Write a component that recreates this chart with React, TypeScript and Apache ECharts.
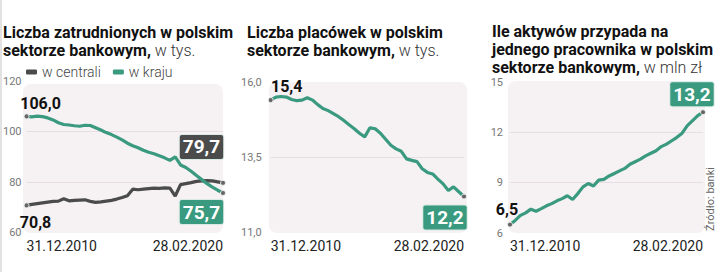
import React, { useEffect, useRef } from 'react';
import * as echarts from 'echarts';

const categories = [
  '2010-12', '2011-03', '2011-06', '2011-09', '2011-12', '2012-03', '2012-06', '2012-09', '2012-12',
  '2013-03', '2013-06', '2013-09', '2013-12', '2014-03', '2014-06', '2014-09', '2014-12',
  '2015-03', '2015-06', '2015-09', '2015-12', '2016-03', '2016-06', '2016-09', '2016-12',
  '2017-03', '2017-06', '2017-09', '2017-12', '2018-03', '2018-06', '2018-09', '2018-12',
  '2019-03', '2019-06', '2019-09', '2019-12', '2020-02',
];
const xTickLabels = ['31.12.2010', '28.02.2020'];

const wCentrali = [
  70.8, 71.2, 71.5, 71.8, 72.1, 72.4, 72.5, 73.4, 72.6, 72.8, 72.9, 73.0, 72.4, 72.0, 72.2, 72.5, 72.8,
  73.3, 73.9, 74.6, 77.2, 77.0, 77.2, 77.4, 77.6, 77.5, 77.7, 77.6, 74.5, 79.0, 79.4, 79.8, 80.3, 80.5,
  80.6, 80.5, 80.1, 79.7,
];
const wKraju = [
  106.0, 105.8, 106.1, 105.9, 105.4, 104.6, 103.5, 102.8, 102.6, 102.3, 102.1, 102.5, 102.4, 101.5,
  100.6, 99.6, 98.8, 97.8, 96.7, 95.4, 94.4, 93.6, 92.6, 91.8, 91.2, 90.4, 89.6, 88.6, 90.0, 86.8, 85.8,
  84.3, 82.6, 81.0, 79.4, 78.0, 76.8, 75.7,
];
const placowki = [
  15.4, 15.5, 15.52, 15.5, 15.42, 15.38, 15.4, 15.48, 15.4, 15.25, 15.12, 15.05, 14.95, 14.85, 14.72,
  14.58, 14.45, 14.3, 14.18, 14.48, 14.45, 14.3, 14.1, 13.9, 13.78, 13.7, 13.45, 13.4, 13.36, 13.12, 13.0,
  12.95, 12.78, 12.62, 12.4, 12.52, 12.36, 12.2,
];
const aktywa = [
  6.5, 6.75, 7.05, 7.2, 7.42, 7.3, 7.45, 7.62, 7.75, 7.92, 8.05, 8.22, 8.0, 8.35, 8.75, 8.95, 8.8, 9.15,
  9.2, 9.4, 9.55, 9.7, 9.85, 10.1, 10.25, 10.4, 10.6, 10.75, 10.9, 11.15, 11.3, 11.5, 11.7, 11.95, 12.4,
  12.7, 13.0, 13.2,
];

const TEAL = '#3a9a7f';
const GREY = '#4b4b4b';
const BG = '#f6f1f3';
const FONT = 'Roboto';

const fmt1 = (v: number) => v.toFixed(1).replace('.', ',');

const plainLabel = (offset: number[]) => ({
  show: true,
  position: 'inside',
  offset,
  formatter: (p: any) => fmt1(p.value),
  color: '#111',
  fontSize: 16,
  fontWeight: 'bold',
  fontFamily: FONT,
});
const boxLabel = (offset: number[], bg: string) => ({
  show: true,
  position: 'inside',
  offset,
  formatter: (p: any) => fmt1(p.value),
  color: '#fff',
  fontSize: 19,
  lineHeight: 20,
  fontWeight: 'bold',
  fontFamily: FONT,
  backgroundColor: bg,
  borderColor: '#d9e9e4',
  borderWidth: 1,
  borderRadius: 2,
  padding: [2, 3, 2, 3],
});

const withEnds = (values: number[], startLabel: any, endLabel: any) =>
  values.map((v, i) => {
    if (i === 0 || i === values.length - 1) {
      return {
        value: v,
        symbol: 'circle',
        symbolSize: 5,
        itemStyle: { color: '#666', borderColor: '#eee', borderWidth: 1 },
        label: i === 0 ? startLabel : endLabel,
      };
    }
    return v;
  });

const last = categories.length - 1;

const xAxisBase = (gridIndex: number) => ({
  type: 'category',
  gridIndex,
  data: categories,
  boundaryGap: false,
  axisLine: { show: false },
  axisTick: { show: false },
  splitLine: { show: false },
  axisLabel: {
    interval: (i: number) => i === 0 || i === last,
    formatter: (_v: string, i: number) => (i === 0 ? xTickLabels[0] : xTickLabels[1]),
    alignMinLabel: 'left',
    alignMaxLabel: 'right',
    fontSize: 14,
    color: '#222',
    fontFamily: FONT,
    margin: 6,
  },
});

const yAxisBase = (gridIndex: number, min: number, max: number, interval: number, margin: number, f?: (v: number) => string) => ({
  type: 'value',
  gridIndex,
  min,
  max,
  interval,
  axisLine: { show: false },
  axisTick: { show: false },
  splitLine: { show: true, showMinLine: false, showMaxLine: false, lineStyle: { color: '#e7dde2', width: 1 } },
  axisLabel: {
    color: '#777',
    fontSize: 11,
    fontFamily: FONT,
    margin,
    formatter: f || ((v: number) => String(v)),
  },
});

const lineSeries = (name: string, idx: number, data: any[], color: string) => ({
  name,
  type: 'line',
  xAxisIndex: idx,
  yAxisIndex: idx,
  data,
  symbol: 'none',
  showSymbol: true,
  showAllSymbol: true,
  lineStyle: { color, width: 3.2 },
  itemStyle: { color },
  color,
  z: 3,
});

const mkRich = (size: number, lh: number) => ({
  b: { fontFamily: FONT, fontWeight: 'bold', fontSize: size, color: '#111', lineHeight: lh },
  l: { fontFamily: FONT, fontWeight: 300, fontSize: size, color: '#333', lineHeight: lh },
});

export default function App() {
  const ref = useRef<HTMLDivElement>(null);
  useEffect(() => {
    document.body.style.margin = '0';
    if (!ref.current) return;
    const chart = echarts.init(ref.current, undefined, { renderer: 'svg' });
    chart.setOption({
      animation: false,
      textStyle: { fontFamily: FONT },
      title: [
        { left: 3, top: 23, padding: 0, text: '{b|Liczba zatrudnionych w polskim}\n{b|sektorze bankowym,}{l| w tys.}', textStyle: { rich: mkRich(16, 18) } },
        { left: 247, top: 23, padding: 0, text: '{b|Liczba placówek w polskim}\n{b|sektorze bankowym,}{l| w tys.}', textStyle: { rich: mkRich(16, 18) } },
        { left: 492, top: 22, padding: 0, text: '{b|Ile aktywów przypada na}\n{b|jednego pracownika w polskim}\n{b|sektorze bankowym,}{l| w mln zł}', textStyle: { rich: mkRich(16, 18) } },
      ],
      legend: {
        left: 26,
        top: 65,
        padding: 0,
        itemWidth: 11,
        itemHeight: 5,
        itemGap: 12,
        data: [
          { name: 'w centrali', icon: 'roundRect' },
          { name: 'w kraju', icon: 'roundRect' },
        ],
        textStyle: { color: '#444', fontSize: 14, fontWeight: 300, fontFamily: FONT },
      },
      grid: [
        { left: 25, right: 497, top: 81, bottom: 39.3 },
        { left: 270.7, right: 256, top: 82, bottom: 39.3 },
        { left: 510, right: 17, top: 82, bottom: 39 },
      ],
      xAxis: [xAxisBase(0), xAxisBase(1), xAxisBase(2)],
      yAxis: [
        yAxisBase(0, 60, 120, 20, 5),
        yAxisBase(1, 11, 16, 2.5, 9, fmt1),
        yAxisBase(2, 6, 15, 3, 7),
      ],
      series: [
        lineSeries('w centrali', 0, withEnds(wCentrali, plainLabel([9, 17]), boxLabel([-21.5, -36], GREY)), GREY),
        lineSeries('w kraju', 0, withEnds(wKraju, plainLabel([14, -13]), boxLabel([-21.5, 19], TEAL)), TEAL),
        lineSeries('placówki', 1, withEnds(placowki, plainLabel([16, -14]), boxLabel([-19, 21], TEAL)), TEAL),
        lineSeries('aktywa', 2, withEnds(aktywa, plainLabel([-3, -15]), boxLabel([-11, -18], TEAL)), TEAL),
      ],
      graphic: {
        elements: [
          { type: 'rect', z: -10, shape: { x: 0, y: 0, width: 2, height: 272 }, style: { fill: '#e2e2e2' } },
          { type: 'rect', z: -10, shape: { x: 23, y: 84, width: 200, height: 149, r: 8 }, style: { fill: BG } },
          { type: 'rect', z: -10, shape: { x: 269, y: 82, width: 198, height: 151, r: 8 }, style: { fill: BG } },
          { type: 'rect', z: -10, shape: { x: 508, y: 81, width: 197, height: 152, r: 8 }, style: { fill: BG } },
          {
            type: 'text',
            x: 710,
            y: 199,
            rotation: Math.PI / 2,
            style: { text: 'Źródło: banki', fill: '#666', font: '11px Roboto', align: 'center', verticalAlign: 'middle' },
          },
        ],
      },
    });
    return () => chart.dispose();
  }, []);
  return <div ref={ref} style={{ width: 720, height: 272 }} />;
}
